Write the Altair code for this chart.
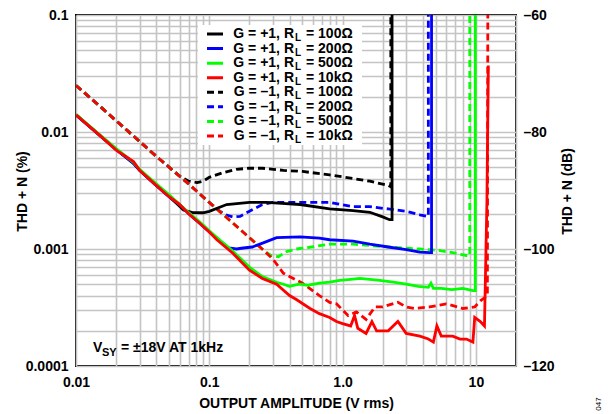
import altair as alt
import pandas as pd

FONT = "Liberation Sans"

# ---------------- data ----------------
# G = +1, RL = 100 ohm
g1_100_x = [0.01, 0.015, 0.02, 0.027, 0.03, 0.04, 0.05, 0.058, 0.064, 0.075, 0.09, 0.1, 0.135, 0.2, 0.27, 0.35, 0.48, 0.8, 1.2, 1.6, 2.0, 2.25, 2.35, 2.35]
g1_100_y = [0.014, 0.0094, 0.0071, 0.0054, 0.0047, 0.0035, 0.0028, 0.0024, 0.00215, 0.00205, 0.00204, 0.0021, 0.0024, 0.0025, 0.0025, 0.00245, 0.0024, 0.0022, 0.00213, 0.00206, 0.00188, 0.00178, 0.00178, 0.2]
# G = +1, RL = 200 ohm
g1_200_x = [0.01, 0.015, 0.02, 0.027, 0.03, 0.04, 0.05, 0.06, 0.07, 0.085, 0.1, 0.12, 0.14, 0.16, 0.18, 0.21, 0.24, 0.32, 0.48, 0.67, 0.8, 1.2, 1.6, 2.2, 3.0, 3.8, 4.5, 4.65, 4.65]
g1_200_y = [0.014, 0.0094, 0.0071, 0.0054, 0.0047, 0.0035, 0.0028, 0.0024, 0.002, 0.00165, 0.0014, 0.00117, 0.00102, 0.001, 0.00102, 0.00104, 0.0011, 0.00125, 0.00127, 0.00124, 0.0012, 0.00117, 0.0011, 0.00104, 0.00099, 0.00094, 0.00093, 0.00093, 0.2]
# G = +1, RL = 500 ohm
g1_500_x = [0.01, 0.015, 0.02, 0.027, 0.03, 0.04, 0.05, 0.06, 0.07, 0.085, 0.1, 0.12, 0.15, 0.2, 0.25, 0.32, 0.36, 0.4, 0.47, 0.55, 0.67, 0.8, 0.95, 1.15, 1.35, 1.6, 1.9, 2.4, 3.0, 3.7, 4.4, 4.6, 4.8, 5.5, 6.6, 8.0, 9.5, 9.9, 9.9]
g1_500_y = [0.0142, 0.0095, 0.0072, 0.0055, 0.0048, 0.0036, 0.0029, 0.0024, 0.00205, 0.0017, 0.00143, 0.00119, 0.00096, 0.0007, 0.00058, 0.00052, 0.0005, 0.00048, 0.0005, 0.00049, 0.00051, 0.00052, 0.00054, 0.00055, 0.00056, 0.00055, 0.00054, 0.00052, 0.0005, 0.00048, 0.00047, 0.00051, 0.00046, 0.00046, 0.00045, 0.00046, 0.00044, 0.00044, 0.2]
# G = +1, RL = 10k ohm
g1_10k_x = [0.01, 0.015, 0.02, 0.027, 0.03, 0.04, 0.05, 0.06, 0.07, 0.085, 0.1, 0.114, 0.15, 0.2, 0.25, 0.32, 0.4, 0.45, 0.57, 0.67, 0.8, 0.9, 1.0, 1.15, 1.23, 1.3, 1.5, 1.66, 1.8, 2.2, 2.6, 3.0, 3.8, 4.4, 4.8, 5.1, 5.5, 6.7, 7.6, 8.5, 9.5, 9.8, 10.8, 11.6, 12.1, 12.4]
g1_10k_y = [0.014, 0.0094, 0.007, 0.0056, 0.0047, 0.0035, 0.0028, 0.0024, 0.002, 0.00165, 0.0014, 0.0012, 0.00092, 0.00066, 0.00056, 0.0005, 0.0004, 0.00037, 0.00031, 0.00028, 0.00026, 0.00024, 0.00023, 0.00022, 0.00027, 0.00021, 0.00019, 0.00024, 0.0002, 0.0002, 0.00024, 0.00019, 0.00018, 0.00017, 0.00016, 0.00022, 0.00018, 0.00018, 0.00017, 0.00017, 0.00016, 0.00026, 0.00024, 0.00022, 0.0025, 0.037]
# G = -1, RL = 100 ohm
gm1_100_x = [0.01, 0.015, 0.02, 0.03, 0.04, 0.05, 0.06, 0.07, 0.081, 0.09, 0.1, 0.127, 0.16, 0.2, 0.25, 0.36, 0.5, 0.8, 1.2, 1.6, 2.2, 2.3, 2.3]
gm1_100_y = [0.025, 0.0167, 0.0125, 0.0083, 0.0062, 0.005, 0.0042, 0.0038, 0.0037, 0.0038, 0.0041, 0.0045, 0.0048, 0.0049, 0.0049, 0.0047, 0.0046, 0.0043, 0.004, 0.0038, 0.0035, 0.0034, 0.2]
# G = -1, RL = 200 ohm
gm1_200_x = [0.01, 0.015, 0.02, 0.03, 0.04, 0.05, 0.07, 0.1, 0.12, 0.135, 0.15, 0.17, 0.2, 0.25, 0.3, 0.36, 0.5, 0.8, 1.2, 1.6, 2.2, 3.0, 3.8, 4.3, 4.4, 4.4]
gm1_200_y = [0.025, 0.0167, 0.0125, 0.0083, 0.0062, 0.005, 0.0036, 0.0025, 0.0021, 0.00195, 0.00188, 0.0019, 0.0021, 0.0024, 0.0025, 0.0025, 0.0025, 0.0025, 0.0023, 0.0023, 0.0022, 0.0021, 0.00196, 0.0019, 0.0019, 0.2]
# G = -1, RL = 500 ohm
gm1_500_x = [0.01, 0.015, 0.02, 0.03, 0.04, 0.05, 0.07, 0.1, 0.15, 0.2, 0.25, 0.29, 0.33, 0.38, 0.45, 0.55, 0.8, 1.2, 2.2, 3.8, 5.4, 7.0, 8.5, 9.0, 9.0]
gm1_500_y = [0.025, 0.0167, 0.0125, 0.0083, 0.0062, 0.005, 0.0036, 0.0025, 0.00167, 0.00125, 0.001, 0.00088, 0.00086, 0.00095, 0.001, 0.00103, 0.0011, 0.0011, 0.00104, 0.001, 0.00097, 0.00092, 0.00088, 0.00088, 0.2]
# G = -1, RL = 10k ohm
gm1_10k_x = [0.01, 0.015, 0.02, 0.03, 0.04, 0.05, 0.07, 0.1, 0.15, 0.2, 0.24, 0.3, 0.36, 0.5, 0.67, 0.8, 0.9, 1.1, 1.27, 1.5, 1.75, 2.0, 2.6, 3.0, 3.5, 4.5, 6.0, 8.0, 9.8, 10.8, 12.2, 12.3]
gm1_10k_y = [0.025, 0.0167, 0.0125, 0.0083, 0.0062, 0.005, 0.0036, 0.0025, 0.00167, 0.00125, 0.00104, 0.00082, 0.00062, 0.00051, 0.0004, 0.00035, 0.00034, 0.00027, 0.00029, 0.00025, 0.00032, 0.00032, 0.00035, 0.00032, 0.00031, 0.00032, 0.00034, 0.00031, 0.00032, 0.00036, 0.0004, 0.2]

series_keys = ["gm1_100", "gm1_200", "gm1_500", "gm1_10k", "g1_100", "g1_200", "g1_500", "g1_10k"]
series_x = [gm1_100_x, gm1_200_x, gm1_500_x, gm1_10k_x, g1_100_x, g1_200_x, g1_500_x, g1_10k_x]
series_y = [gm1_100_y, gm1_200_y, gm1_500_y, gm1_10k_y, g1_100_y, g1_200_y, g1_500_y, g1_10k_y]
series_colors = ["#000000", "#0000ff", "#00ff00", "#ff0000", "#000000", "#0000ff", "#00ff00", "#ff0000"]
series_dashed = [True, True, True, True, False, False, False, False]

legend_part1 = ["G = +1, R", "G = +1, R", "G = +1, R", "G = +1, R",
                "G = \u20131, R", "G = \u20131, R", "G = \u20131, R", "G = \u20131, R"]
legend_part3 = ["= 100\u03a9", "= 200\u03a9", "= 500\u03a9", "= 10k\u03a9",
                "= 100\u03a9", "= 200\u03a9", "= 500\u03a9", "= 10k\u03a9"]
legend_colors = ["#000000", "#0000ff", "#00ff00", "#ff0000", "#000000", "#0000ff", "#00ff00", "#ff0000"]
legend_dash = ["solid", "solid", "solid", "solid", "dashed", "dashed", "dashed", "dashed"]

x_tick_values = [round(m * 10 ** e, 6) for e in (-2, -1, 0, 1) for m in range(1, 10)] + [20]
y_tick_values = [round(m * 10 ** e, 7) for e in (-4, -3, -2) for m in range(1, 10)] + [0.1]
db_ticks = [-60, -80, -100, -120]

# ---------------- build table ----------------
rows = []
for k, xs, ys in zip(series_keys, series_x, series_y):
    for i, (xv, yv) in enumerate(zip(xs, ys)):
        rows.append({"s": k, "i": i, "x": xv, "y": yv})
df = pd.DataFrame(rows)

GRID = "#c4c4c4"

base = alt.Chart(df).encode(
    x=alt.X("x:Q",
            scale=alt.Scale(type="log", domain=[0.01, 20], nice=False),
            axis=alt.Axis(values=x_tick_values, grid=True, gridColor=GRID, gridWidth=1.6,
                          gridOpacity=1, ticks=False, domain=False, labelFlush=False,
                          labelOverlap=False, labelPadding=9,
                          labelExpr="datum.value == 0.01 ? '0.01' : datum.value == 0.1 ? '0.1' : datum.value == 1 ? '1.0' : datum.value == 10 ? '10' : ''",
                          title="OUTPUT AMPLITUDE (V rms)", titleX=220, titleY=37,
                          titleAlign="center", titleBaseline="middle")),
    y=alt.Y("y:Q",
            scale=alt.Scale(type="log", domain=[0.0001, 0.1], nice=False),
            axis=alt.Axis(values=y_tick_values, grid=True, gridColor=GRID, gridWidth=1.6,
                          gridOpacity=1, ticks=False, domain=False, labelFlush=False,
                          labelOverlap=False, labelPadding=8,
                          labelExpr="datum.value == 0.1 ? '0.1' : datum.value == 0.01 ? '0.01' : datum.value == 0.001 ? '0.001' : datum.value == 0.0001 ? '0.0001' : ''",
                          title="THD + N (%)", titleX=-54, titleY=176, titleAngle=270,
                          titleAlign="center", titleBaseline="middle")),
    order="i:Q",
)

line_layers = []
for k, c, d in zip(series_keys, series_colors, series_dashed):
    kw = dict(color=c, strokeWidth=2.8, clip=True, strokeCap="butt", strokeJoin="miter")
    if d:
        kw["strokeDash"] = [7, 4]
    line_layers.append(base.transform_filter(alt.datum.s == k).mark_line(**kw))

lines = alt.layer(*line_layers)

# right dB axis
db_df = pd.DataFrame({"db": [-120, -60]})
db_layer = alt.Chart(db_df).mark_point(opacity=0).encode(
    y=alt.Y("db:Q", scale=alt.Scale(domain=[-120, -60], nice=False, zero=False),
            axis=alt.Axis(orient="right", values=db_ticks, grid=False, ticks=False, domain=False,
                          labelPadding=7, labelExpr="'\u2013' + abs(datum.value)",
                          title="THD + N (dB)", titleX=51, titleY=176, titleAngle=270,
                          titleAlign="center", titleBaseline="middle"))
)

# custom legend
leg_df = pd.DataFrame({"row": list(range(8)), "p1": legend_part1, "p3": legend_part3,
                       "color": legend_colors, "dash": legend_dash})
leg_base = alt.Chart(leg_df).transform_calculate(py="19 + datum.row * 14.57")
leg_bg = alt.Chart(pd.DataFrame({"a": [0]})).mark_rect(color="white").encode(
    x=alt.value(122), x2=alt.value(286), y=alt.value(10), y2=alt.value(130))
leg_sym = leg_base.mark_rule(strokeWidth=3, strokeCap="butt").encode(
    x=alt.value(131), x2=alt.value(147),
    y=alt.Y("py:Q", scale=None, axis=None),
    color=alt.Color("color:N", scale=None, legend=None),
    strokeDash=alt.StrokeDash("dash:N", scale=alt.Scale(domain=["solid", "dashed"], range=[[1, 0], [7, 4]]), legend=None),
)
TXT = dict(font=FONT, fontWeight="bold", fontSize=14, color="black", baseline="middle")
leg_t1 = leg_base.mark_text(align="right", **TXT).encode(
    x=alt.value(218), y=alt.Y("py:Q", scale=None, axis=None), text="p1:N")
leg_t2 = leg_base.mark_text(align="left", font=FONT, fontWeight="bold", fontSize=10, color="black",
                            baseline="middle", dy=4).encode(
    x=alt.value(219), y=alt.Y("py:Q", scale=None, axis=None), text=alt.value("L"))
leg_t3 = leg_base.mark_text(align="left", **TXT).encode(
    x=alt.value(230), y=alt.Y("py:Q", scale=None, axis=None), text="p3:N")

one = pd.DataFrame({"a": [0]})
ann1 = alt.Chart(one).mark_text(align="left", **TXT).encode(
    x=alt.value(17), y=alt.value(333), text=alt.value("V"))
ann2 = alt.Chart(one).mark_text(align="left", font=FONT, fontWeight="bold", fontSize=11,
                                color="black", baseline="middle").encode(
    x=alt.value(26), y=alt.value(338), text=alt.value("SY"))
ann3 = alt.Chart(one).mark_text(align="left", **TXT).encode(
    x=alt.value(45), y=alt.value(333), text=alt.value("= \u00b118V AT 1kHz"))
code = alt.Chart(one).mark_text(align="center", baseline="middle", font=FONT, fontSize=8,
                                color="black", angle=270).encode(
    x=alt.value(523), y=alt.value(389), text=alt.value("047"))

chart = alt.layer(
    lines, db_layer, leg_bg, leg_sym, leg_t1, leg_t2, leg_t3, ann1, ann2, ann3, code
).resolve_scale(y="independent").properties(
    width=440, height=351,
    autosize=alt.AutoSizeParams(type="none"),
    padding={"left": 68, "top": 7, "right": 92, "bottom": 45},
).configure_view(stroke="black", strokeWidth=2).configure_axis(
    labelFont=FONT, labelFontWeight="bold", labelFontSize=14, labelColor="black",
    titleFont=FONT, titleFontWeight="bold", titleFontSize=14, titleColor="black",
)

chart.save("out.html", embed_options={"renderer": "svg", "actions": False})
